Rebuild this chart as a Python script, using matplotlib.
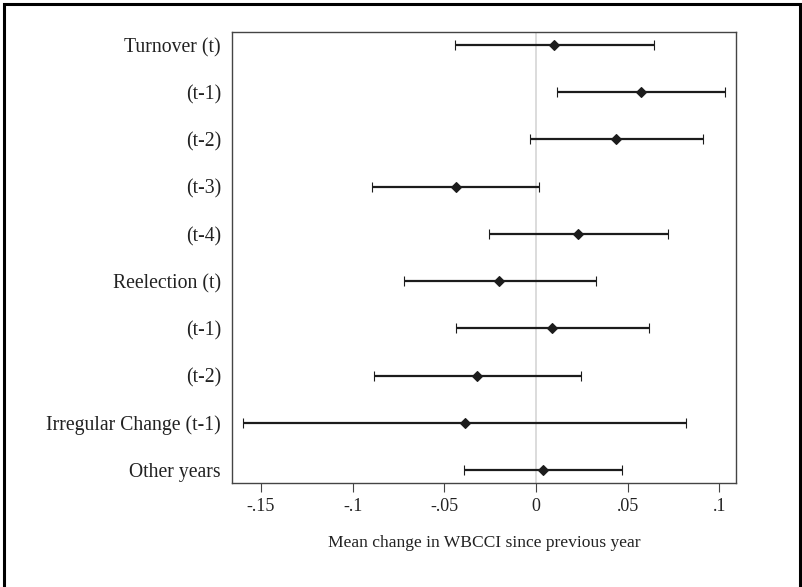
import matplotlib
matplotlib.use("Agg")
import matplotlib.pyplot as plt
from matplotlib.patches import Rectangle

# ── Data ──────────────────────────────────────────────────────────────
labels = ["Turnover (t)", "(t-1)", "(t-2)", "(t-3)", "(t-4)",
          "Reelection (t)", "(t-1)", "(t-2)", "Irregular Change (t-1)",
          "Other years"]
means = [0.0098, 0.0571, 0.0436, -0.0438, 0.0231,
         -0.0200, 0.0087, -0.0322, -0.0387, 0.0038]
lower = [-0.0442, 0.0113, -0.0033, -0.0894, -0.0258,
         -0.0721, -0.0434, -0.0885, -0.1598, -0.0393]
upper = [0.0643, 0.1032, 0.0909, 0.0018, 0.0718,
         0.0325, 0.0618, 0.0245, 0.0820, 0.0469]
xticks = [-0.15, -0.1, -0.05, 0, 0.05, 0.1]
xtick_labels = ["-.15", "-.1", "-.05", "0", ".05", ".1"]

plt.rcParams["font.family"] = ["Liberation Serif", "DejaVu Serif"]
TEXT = "#222222"
MARK = "#1c1c1c"

fig = plt.figure(figsize=(8.02, 5.87), dpi=100, facecolor="white")
ax = fig.add_axes([0.2893, 0.1772, 0.6284, 0.7683])

ypos = list(range(1, len(labels) + 1))
xerr = [[m - lo for m, lo in zip(means, lower)],
        [hi - m for m, hi in zip(means, upper)]]

ax.axvline(0, color="#d9d9d9", lw=1.3, zorder=1)
ax.errorbar(means, ypos, xerr=xerr, fmt="D", color=MARK, ecolor=MARK,
            elinewidth=1.6, capsize=3.8, capthick=2.0,
            markersize=5.5, markeredgewidth=0.8, zorder=3)

ax.set_xlim(-0.1658, 0.109)
ax.set_ylim(len(labels) + 0.275, 1 - 0.275)
ax.set_yticks(ypos)
ax.set_yticklabels(labels, fontsize=14.2, color=TEXT)
ax.tick_params(axis="y", length=0, pad=8)
ax.set_xticks(xticks)
ax.set_xticklabels(xtick_labels, fontsize=13, color=TEXT)
ax.tick_params(axis="x", length=6.5, width=0.8, color="#444444", pad=4)
ax.set_xlabel("Mean change in WBCCI since previous year", fontsize=12.6,
              color=TEXT, labelpad=15)
for spine in ax.spines.values():
    spine.set_color("#444444")
    spine.set_linewidth(1.0)

# outer frame around the whole graph
fig.patches.append(Rectangle((4 / 802, -0.02), 796 / 802, 1.02 - 4 / 587,
                             transform=fig.transFigure, fill=False,
                             edgecolor="black", linewidth=2.2))

plt.savefig("out.png", dpi=100, facecolor="white")
plt.close(fig)
